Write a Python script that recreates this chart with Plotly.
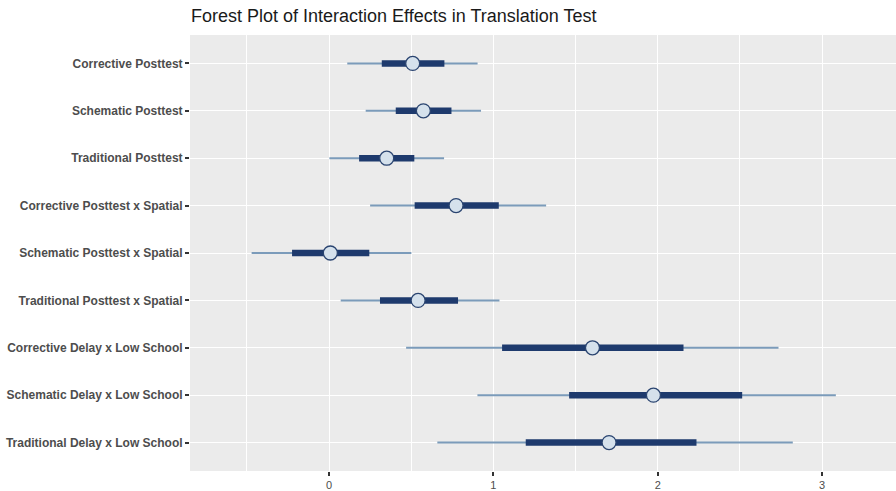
import plotly.graph_objects as go

labels = [
    "Corrective Posttest",
    "Schematic Posttest",
    "Traditional Posttest",
    "Corrective Posttest x Spatial",
    "Schematic Posttest x Spatial",
    "Traditional Posttest x Spatial",
    "Corrective Delay x Low School",
    "Schematic Delay x Low School",
    "Traditional Delay x Low School",
]
estimate = [0.509, 0.574, 0.351, 0.773, 0.008, 0.542, 1.603, 1.974, 1.704]
outer_lo = [0.111, 0.223, 0.002, 0.250, -0.471, 0.071, 0.469, 0.903, 0.659]
outer_hi = [0.904, 0.925, 0.700, 1.321, 0.501, 1.037, 2.735, 3.084, 2.822]
inner_lo = [0.321, 0.406, 0.183, 0.521, -0.225, 0.310, 1.053, 1.461, 1.197]
inner_hi = [0.702, 0.745, 0.519, 1.033, 0.245, 0.785, 2.157, 2.514, 2.236]
x_ticks = [0, 1, 2, 3]

def seg(lo, hi):
    xs, ys = [], []
    for l, h, lab in zip(lo, hi, labels):
        xs += [l, h, None]
        ys += [lab, lab, None]
    return xs, ys

fig = go.Figure()
xo, yo = seg(outer_lo, outer_hi)
fig.add_trace(go.Scatter(x=xo, y=yo, mode="lines",
                         line=dict(color="#7B9BBA", width=2), hoverinfo="skip"))
xi, yi = seg(inner_lo, inner_hi)
fig.add_trace(go.Scatter(x=xi, y=yi, mode="lines",
                         line=dict(color="#1E3A6D", width=6.5), hoverinfo="skip"))
fig.add_trace(go.Scatter(x=estimate, y=labels, mode="markers",
                         marker=dict(size=14, color="#D5E1EC",
                                     line=dict(color="#2A4470", width=1.3))))

fig.update_layout(
    width=896, height=491,
    margin=dict(l=190, r=0, t=35, b=17),
    plot_bgcolor="#EBEBEB", paper_bgcolor="white",
    showlegend=False,
    title=dict(text="Forest Plot of Interaction Effects in Translation Test",
               x=191/896, xanchor="left", y=1 - 16/491, yanchor="middle",
               font=dict(family="Liberation Sans, Arial", size=18, color="#1A1A1A")),
    font=dict(family="Liberation Sans, Arial"),
)
fig.update_xaxes(
    range=[-0.846, 3.45], tickvals=x_ticks, ticktext=[str(t) for t in x_ticks],
    showgrid=True, gridcolor="white", gridwidth=1.3, zeroline=False,
    ticks="outside", ticklen=4, tickcolor="#333333", tickwidth=1.5,
    tickfont=dict(size=11, color="#4D4D4D"),
    minor=dict(dtick=0.5, tick0=0.5, showgrid=True, gridcolor="white", gridwidth=0.6),
    showline=False,
)
fig.update_yaxes(
    type="category", categoryorder="array", categoryarray=labels,
    range=[len(labels) - 0.4, -0.6],
    showgrid=True, gridcolor="white", gridwidth=1.3, zeroline=False,
    ticks="outside", ticklen=4, tickcolor="#333333", tickwidth=1.5,
    tickfont=dict(size=12, color="#4D4D4D", weight="bold"),
    showline=False,
)

fig.write_html("out.html", config={"displayModeBar": False},
               post_script="document.body.style.margin='0';document.body.style.overflow='hidden';")
